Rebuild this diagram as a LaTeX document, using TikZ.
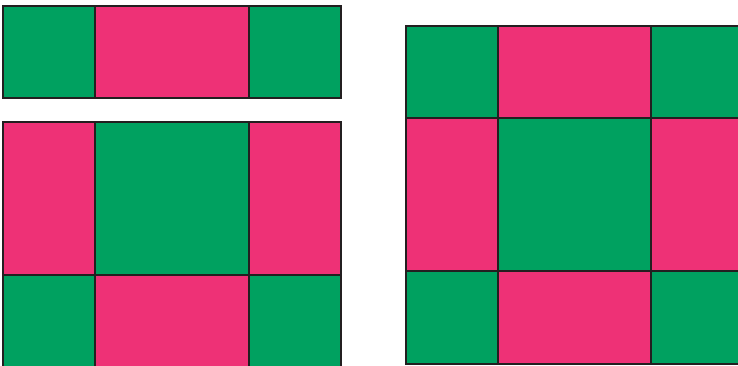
\documentclass[tikz,border=0pt]{standalone}
\usepackage{tikz}
\definecolor{grn}{HTML}{00A160}
\definecolor{pnk}{HTML}{EE3176}
\definecolor{edge}{HTML}{231F20}
\tikzset{
  gcell/.style={fill=grn,draw=edge,line width=1.4pt},
  pcell/.style={fill=pnk,draw=edge,line width=1.4pt},
}
\begin{document}
\begin{tikzpicture}[x=1pt,y=-1pt]
\useasboundingbox (0,0) rectangle (738,366);
\clip (0,0) rectangle (738,366);
% top left strip
\draw[gcell] (3,6) rectangle (95,98);
\draw[pcell] (95,6) rectangle (249,98);
\draw[gcell] (249,6) rectangle (341,98);
% bottom left block
\draw[pcell] (3,122) rectangle (95,275);
\draw[gcell] (95,122) rectangle (249,275);
\draw[pcell] (249,122) rectangle (341,275);
\draw[gcell] (3,275) rectangle (95,372);
\draw[pcell] (95,275) rectangle (249,372);
\draw[gcell] (249,275) rectangle (341,372);
% right block
\draw[gcell] (406,26) rectangle (498,118);
\draw[pcell] (498,26) rectangle (651,118);
\draw[gcell] (651,26) rectangle (745,118);
\draw[pcell] (406,118) rectangle (498,271);
\draw[gcell] (498,118) rectangle (651,271);
\draw[pcell] (651,118) rectangle (745,271);
\draw[gcell] (406,271) rectangle (498,364);
\draw[pcell] (498,271) rectangle (651,364);
\draw[gcell] (651,271) rectangle (745,364);
\end{tikzpicture}
\end{document}
